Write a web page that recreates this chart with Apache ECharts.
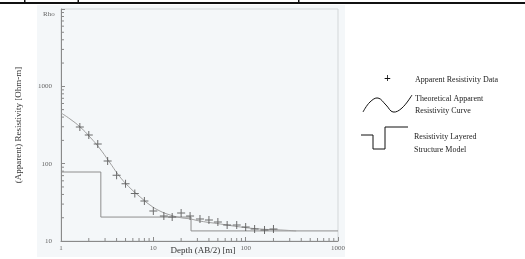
<!DOCTYPE html>
<html>
<head>
<meta charset="utf-8">
<script src="https://cdn.jsdelivr.net/npm/echarts@6/dist/echarts.min.js"></script>
<style>
  html, body { margin: 0; padding: 0; background: #fff; }
  #box { width: 525px; height: 259px; }
</style>
</head>
<body>
<div id="box"></div>
<script>
// measured apparent resistivity (AB/2 in m, rho in Ohm-m)
var dataDepth = [1.6, 2, 2.5, 3.2, 4, 5, 6.3, 8, 10, 13, 16, 20, 25, 32, 40, 50, 63, 80, 100, 125, 160, 200];
var dataRho = [298, 235, 180, 108, 71, 55, 41, 33, 24.4, 21, 20.4, 23, 21, 19.3, 18.7, 17.6, 16.1, 16.1, 15.2, 14.3, 13.9, 14.3];

// theoretical curve
var curveDepth = [1, 1.25, 1.61, 2.06, 2.65, 3.4, 4.36, 5.6, 7.2, 9.2, 11.8, 15.2, 19.4, 25, 32, 53, 87, 143, 236, 352];
var curveRho = [453, 379, 298, 221, 155, 102, 67.3, 48.5, 37.1, 29.2, 24.4, 21.7, 20.1, 19.3, 18.1, 16.6, 15.2, 14.3, 13.9, 13.5];

// layered model: layer bottoms and resistivities
var layerBottom = [2.7, 25.6, 1000];
var layerRho = [78, 20.4, 13.5];

var xLabels = ['1', '10', '100', '1000'];
var yLabels = ['10', '100', '1000'];

window.onload = function () {
    var myChart = echarts.init(document.getElementById('box'));
    var serif = 'Liberation Serif';

    var points = dataDepth.map(function (d, i) { return [d, dataRho[i]]; });
    var curve = curveDepth.map(function (d, i) { return [d, curveRho[i]]; });

    // step line from the layers
    var steps = [];
    var top = 1;
    layerBottom.forEach(function (b, i) {
        steps.push([top, layerRho[i]]);
        steps.push([b, layerRho[i]]);
        top = b;
    });

    // minor ticks 2..9 of each decade
    var xMinor = [], yMinor = [];
    [1, 10, 100].forEach(function (d) {
        for (var k = 2; k < 10; k++) xMinor.push([d * k, 10]);
    });
    [10, 100, 1000].forEach(function (d) {
        for (var k = 2; k < 10; k++) yMinor.push([1, d * k]);
    });

    var plus = 'path://M3.5,0h1v3.5h3.5v1h-3.5v3.5h-1v-3.5h-3.5v-1h3.5z';

    var option = {
        animation: false,
        grid: {
            left: 61, right: 187, top: 9, bottom: 18,
            outerBoundsMode: 'none', containLabel: false,
            show: true, borderColor: '#d3d7d9', borderWidth: 1
        },
        xAxis: {
            type: 'log', min: 1, max: 1000,
            axisLine: { lineStyle: { color: '#8a8a8a' } },
            axisTick: { inside: true, length: 4, lineStyle: { color: '#8a8a8a' } },
            splitLine: { show: false },
            axisLabel: {
                fontFamily: serif, fontSize: 7, color: '#666', margin: 4,
                formatter: function (v) {
                    var i = Math.round(Math.log10(v));
                    return xLabels[i] || '';
                }
            }
        },
        yAxis: {
            type: 'log', min: 10, max: 10000,
            name: '(Apparent) Resistivity [Ohm-m]',
            nameLocation: 'middle', nameGap: 38,
            nameTextStyle: { fontFamily: serif, fontSize: 9, color: '#333' },
            axisLine: { lineStyle: { color: '#8a8a8a' } },
            axisTick: { inside: true, length: 4, lineStyle: { color: '#8a8a8a' } },
            splitLine: { show: false },
            axisLabel: {
                fontFamily: serif, fontSize: 7, color: '#666', margin: 9,
                formatter: function (v) {
                    var i = Math.round(Math.log10(v)) - 1;
                    return yLabels[i] || '';
                }
            }
        },
        graphic: [
            { type: 'rect', z: -10, shape: { x: 37, y: 5, width: 308, height: 252 }, style: { fill: '#f4f7f9' } },
            { type: 'rect', shape: { x: 0, y: 2, width: 525, height: 2 }, style: { fill: '#111' } },
            { type: 'rect', shape: { x: 24, y: 0, width: 1.5, height: 3 }, style: { fill: '#111' } },
            { type: 'rect', shape: { x: 77.5, y: 0, width: 1.5, height: 3 }, style: { fill: '#111' } },
            { type: 'rect', shape: { x: 298, y: 0, width: 1.5, height: 3 }, style: { fill: '#111' } },
            { type: 'text', x: 43, y: 11, style: { text: 'Rho', font: '7px ' + serif, fill: '#666' } },
            { type: 'text', x: 203, y: 251, style: { text: 'Depth (AB/2) [m]', font: '9px ' + serif, fill: '#333', align: 'center', verticalAlign: 'middle' } },
            // legend
            { type: 'text', x: 384, y: 73, style: { text: '+', font: 'bold 12px ' + serif, fill: '#111' } },
            { type: 'text', x: 415, y: 76, style: { text: 'Apparent Resistivity Data', font: '8px ' + serif, fill: '#222' } },
            { type: 'polyline',
              shape: { points: [[363, 112], [370, 102], [378, 98], [386, 105], [393, 112], [402, 108], [412, 95]], smooth: 0.4 },
              style: { fill: null, stroke: '#111', lineWidth: 1 } },
            { type: 'text', x: 415, y: 93, style: { text: 'Theoretical Apparent\nResistivity Curve', font: '8px ' + serif, lineHeight: 12, fill: '#222' } },
            { type: 'polyline', shape: { points: [[361, 135], [373, 135], [373, 149], [385, 149], [385, 127], [408, 127]] },
              style: { fill: null, stroke: '#111', lineWidth: 1 } },
            { type: 'text', x: 414, y: 130, style: { text: 'Resistivity Layered\nStructure Model', font: '8px ' + serif, lineHeight: 13, fill: '#222' } }
        ],
        series: [
            {
                type: 'line', data: steps, symbol: 'none',
                lineStyle: { color: '#8e8e8e', width: 1 }, z: 2
            },
            {
                type: 'line', data: curve, smooth: true, symbol: 'none',
                lineStyle: { color: '#a0a0a0', width: 1 }, z: 3
            },
            {
                type: 'scatter', data: points, symbol: plus, symbolSize: 8,
                itemStyle: { color: '#4a4a4a' }, z: 4
            },
            {
                type: 'custom', data: xMinor, clip: false, silent: true,
                renderItem: function (params, api) {
                    var p = api.coord([api.value(0), api.value(1)]);
                    return { type: 'line', shape: { x1: p[0], y1: p[1], x2: p[0], y2: p[1] - 3 },
                             style: { stroke: '#8a8a8a', lineWidth: 1 } };
                }
            },
            {
                type: 'custom', data: yMinor, clip: false, silent: true,
                renderItem: function (params, api) {
                    var p = api.coord([api.value(0), api.value(1)]);
                    return { type: 'line', shape: { x1: p[0], y1: p[1], x2: p[0] + 3, y2: p[1] },
                             style: { stroke: '#8a8a8a', lineWidth: 1 } };
                }
            }
        ]
    };
    myChart.setOption(option);
};
</script>
</body>
</html>
